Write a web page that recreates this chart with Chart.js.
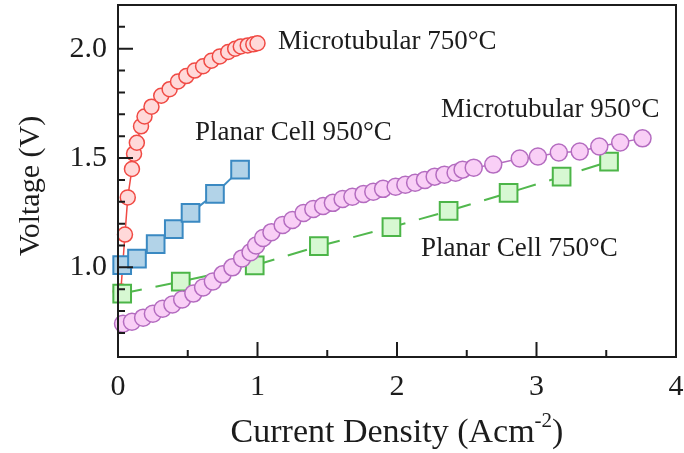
<!DOCTYPE html>
<html>
<head>
<meta charset="utf-8">
<script src="https://cdn.jsdelivr.net/npm/chart.js@4"></script>
<style>
  html, body { margin: 0; padding: 0; background: #fff; }
  #wrap { width: 684px; height: 453px; }
</style>
</head>
<body>
<div id="wrap"><canvas id="chart" width="684" height="453"></canvas></div>
<script>
// Microtubular 750°C
const micro750X = [0.02, 0.05, 0.07, 0.10, 0.115, 0.135, 0.165, 0.19, 0.24, 0.31, 0.37, 0.43, 0.49, 0.55, 0.61, 0.67, 0.73, 0.79, 0.84, 0.88, 0.93, 0.97, 1.0];
const micro750Y = [0.89, 1.15, 1.32, 1.45, 1.52, 1.57, 1.645, 1.69, 1.735, 1.785, 1.815, 1.85, 1.875, 1.9, 1.92, 1.945, 1.965, 1.985, 2.0, 2.01, 2.015, 2.02, 2.025];

// Microtubular 950°C
const micro950X = [0.036, 0.10, 0.18, 0.25, 0.32, 0.39, 0.46, 0.54, 0.61, 0.68, 0.75, 0.82, 0.89, 0.95, 0.99, 1.04, 1.10, 1.18, 1.25, 1.33, 1.40, 1.47, 1.54, 1.61, 1.68, 1.76, 1.83, 1.90, 1.99, 2.06, 2.13, 2.20, 2.27, 2.34, 2.42, 2.47, 2.55, 2.69, 2.88, 3.01, 3.16, 3.31, 3.45, 3.60, 3.76];
const micro950Y = [0.742, 0.751, 0.77, 0.788, 0.811, 0.83, 0.853, 0.88, 0.908, 0.935, 0.968, 1.0, 1.041, 1.069, 1.10, 1.134, 1.161, 1.194, 1.217, 1.249, 1.267, 1.281, 1.295, 1.313, 1.323, 1.336, 1.346, 1.359, 1.369, 1.378, 1.387, 1.40, 1.415, 1.424, 1.433, 1.447, 1.456, 1.47, 1.498, 1.507, 1.525, 1.53, 1.553, 1.571, 1.59];

// Planar Cell 950°C
const planar950X = [0.03, 0.136, 0.27, 0.40, 0.52, 0.695, 0.875];
const planar950Y = [1.01, 1.04, 1.106, 1.175, 1.249, 1.336, 1.447];

// Planar Cell 750°C
const planar750X = [0.03, 0.45, 0.98, 1.44, 1.96, 2.37, 2.80, 3.18, 3.52];
const planar750Y = [0.88, 0.935, 1.009, 1.097, 1.184, 1.258, 1.341, 1.415, 1.484];

const seriesNames = ['Microtubular 750°C', 'Planar Cell 950°C', 'Microtubular 950°C', 'Planar Cell 750°C'];

const xTicks = [0, 1, 2, 3, 4];
const xMinorTicks = [0.5, 1.5, 2.5, 3.5];
const yTicks = [1.0, 1.5, 2.0];
const yMinorTicks = [0.7, 0.8, 0.9, 1.1, 1.2, 1.3, 1.4, 1.6, 1.7, 1.8, 1.9, 2.1];

const xTitle = 'Current Density (Acm';
const xTitleSup = '-2';
const yTitle = 'Voltage (V)';

// where each series name sits, in data units (left edge, vertical middle)
const labelAnchors = [[1.147, 2.03], [0.552, 1.613], [2.315, 1.72], [2.172, 1.083]];

const SERIF = '"Liberation Serif", "DejaVu Serif", serif';
const INK = '#1c1c1c';

const toPoints = (xs, ys) => xs.map((x, i) => ({ x, y: ys[i] }));

const framePlugin = {
    id: 'frame',
    afterDraw(chart) {
        const { ctx, chartArea: a, scales: { x, y } } = chart;
        ctx.save();
        ctx.strokeStyle = INK;
        ctx.lineWidth = 2;
        ctx.strokeRect(a.left, a.top, a.right - a.left, a.bottom - a.top);

        // inward ticks
        ctx.beginPath();
        xTicks.forEach(v => { const px = x.getPixelForValue(v); ctx.moveTo(px, a.bottom); ctx.lineTo(px, a.bottom - 15); });
        xMinorTicks.forEach(v => { const px = x.getPixelForValue(v); ctx.moveTo(px, a.bottom); ctx.lineTo(px, a.bottom - 7); });
        yTicks.forEach(v => { const py = y.getPixelForValue(v); ctx.moveTo(a.left, py); ctx.lineTo(a.left + 15, py); });
        yMinorTicks.forEach(v => { const py = y.getPixelForValue(v); ctx.moveTo(a.left, py); ctx.lineTo(a.left + 7, py); });
        ctx.stroke();

        ctx.fillStyle = INK;
        ctx.textBaseline = 'middle';

        // series labels
        ctx.font = '27px ' + SERIF;
        ctx.textAlign = 'left';
        seriesNames.forEach((name, i) => {
            const [lx, ly] = labelAnchors[i];
            ctx.fillText(name, x.getPixelForValue(lx), y.getPixelForValue(ly));
        });

        // x title with superscript
        const cx = (a.left + a.right) / 2;
        const ty = 433;
        ctx.font = '34px ' + SERIF;
        const w1 = ctx.measureText(xTitle).width;
        const w3 = ctx.measureText(')').width;
        ctx.font = '21px ' + SERIF;
        const w2 = ctx.measureText(xTitleSup).width;
        let sx = cx - (w1 + w2 + w3) / 2;
        ctx.font = '34px ' + SERIF;
        ctx.fillText(xTitle, sx, ty);
        sx += w1;
        ctx.font = '21px ' + SERIF;
        ctx.fillText(xTitleSup, sx, ty - 12);
        sx += w2;
        ctx.font = '34px ' + SERIF;
        ctx.fillText(')', sx, ty);

        // y title
        ctx.translate(31, 186);
        ctx.rotate(-Math.PI / 2);
        ctx.textAlign = 'center';
        ctx.font = '30px ' + SERIF;
        ctx.fillText(yTitle, 0, 0);
        ctx.restore();
    }
};

new Chart(document.getElementById('chart'), {
    type: 'scatter',
    data: {
        datasets: [
            {
                label: seriesNames[2],
                data: toPoints(micro950X, micro950Y),
                showLine: true,
                borderColor: '#b46cc0',
                borderWidth: 1.5,
                pointBackgroundColor: '#f9cff6',
                pointBorderColor: '#b46cc0',
                pointBorderWidth: 1.5,
                pointRadius: 8.5,
                order: 0,
                clip: false
            },
            {
                label: seriesNames[1],
                data: toPoints(planar950X, planar950Y),
                showLine: true,
                borderColor: '#3f8dc4',
                borderWidth: 2,
                pointStyle: 'rect',
                pointBackgroundColor: '#b2d3e8',
                pointBorderColor: '#3a89c2',
                pointBorderWidth: 2,
                pointRadius: 12.5,
                order: 1,
                clip: false
            },
            {
                label: seriesNames[3],
                data: toPoints(planar750X, planar750Y),
                showLine: true,
                borderColor: '#52b84e',
                borderWidth: 2,
                borderDash: [20, 14],
                pointStyle: 'rect',
                pointBackgroundColor: '#d7f8d2',
                pointBorderColor: '#4cb548',
                pointBorderWidth: 2,
                pointRadius: 12.5,
                order: 2,
                clip: false
            },
            {
                label: seriesNames[0],
                data: toPoints(micro750X, micro750Y),
                showLine: true,
                borderColor: '#f04a44',
                borderWidth: 1.5,
                pointBackgroundColor: '#ffd9d9',
                pointBorderColor: '#f04a44',
                pointBorderWidth: 1.5,
                pointRadius: 7.5,
                order: 3,
                clip: false
            }
        ]
    },
    options: {
        responsive: false,
        animation: false,
        layout: { autoPadding: false, padding: { top: 5, right: 8, left: 0, bottom: 0 } },
        plugins: { legend: { display: false }, tooltip: { enabled: false } },
        scales: {
            x: {
                type: 'linear',
                min: 0,
                max: 4,
                afterBuildTicks: s => { s.ticks = xTicks.map(v => ({ value: v })); },
                afterFit: s => { s.height = 96; s.paddingLeft = 0; s.paddingRight = 0; },
                grid: { display: false, drawTicks: false },
                border: { display: false },
                ticks: {
                    font: { family: SERIF, size: 30 },
                    color: INK,
                    padding: 12,
                    maxRotation: 0,
                    callback: v => String(v)
                }
            },
            y: {
                type: 'linear',
                min: 0.59,
                max: 2.2,
                afterBuildTicks: s => { s.ticks = yTicks.map(v => ({ value: v })); },
                afterFit: s => { s.width = 118; s.paddingTop = 0; s.paddingBottom = 0; },
                grid: { display: false, drawTicks: false },
                border: { display: false },
                ticks: {
                    font: { family: SERIF, size: 30 },
                    color: INK,
                    padding: 11,
                    callback: v => v.toFixed(1)
                }
            }
        }
    },
    plugins: [framePlugin]
});
</script>
</body>
</html>
